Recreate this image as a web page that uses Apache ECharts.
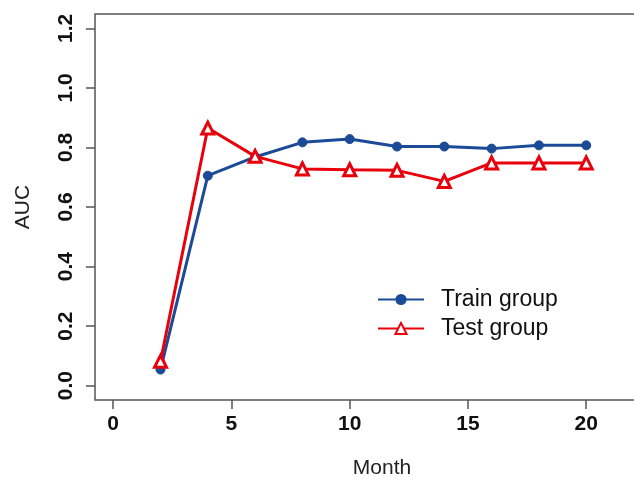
<!DOCTYPE html>
<html>
<head>
<meta charset="utf-8">
<script src="https://cdn.jsdelivr.net/npm/echarts@6/dist/echarts.min.js"></script>
<style>
html,body{margin:0;padding:0;background:#fff;}
#main{width:634px;height:483px;}
</style>
</head>
<body>
<div id="main"></div>
<script>
const months = [2, 4, 6, 8, 10, 12, 14, 16, 18, 20];
const trainAUC = [0.054, 0.705, 0.768, 0.817, 0.828, 0.803, 0.803, 0.796, 0.807, 0.807];
const testAUC = [0.082, 0.865, 0.770, 0.728, 0.725, 0.723, 0.686, 0.748, 0.748, 0.748];
const xTicks = [0, 5, 10, 15, 20];
const yTicks = [0, 0.2, 0.4, 0.6, 0.8, 1.0, 1.2];
const seriesNames = ['Train group', 'Test group'];

const blue = '#1b4a96';
const red = '#e8000b';
const axisColor = '#555';
const font = '"Liberation Sans", Arial, sans-serif';

const chart = echarts.init(document.getElementById('main'));
chart.setOption({
  animation: false,
  backgroundColor: '#fff',
  grid: {
    left: 95, top: 14, width: 574, height: 386,
    outerBoundsMode: 'none', containLabel: false,
    show: true, borderColor: axisColor, borderWidth: 1.5, backgroundColor: 'transparent'
  },
  legend: {
    orient: 'vertical',
    left: 372, top: 283,
    itemWidth: 46, itemHeight: 14, itemGap: 6,
    textStyle: { fontFamily: font, fontSize: 23, color: '#111', padding: [0, 0, 0, 12] },
    data: seriesNames
  },
  xAxis: {
    type: 'value', min: -0.77, max: 23.5,
    name: 'Month', nameLocation: 'middle', nameGap: 58,
    nameTextStyle: { fontFamily: font, fontSize: 21, color: '#222' },
    axisLine: { show: false, onZero: false },
    splitLine: { show: false },
    axisTick: { show: true, inside: false, length: 9, customValues: xTicks, lineStyle: { color: axisColor, width: 1.5 } },
    axisLabel: { customValues: xTicks, margin: 14, fontFamily: font, fontSize: 21, fontWeight: 'bold', color: '#111' }
  },
  yAxis: {
    type: 'value', min: -0.048, max: 1.248,
    name: 'AUC', nameLocation: 'middle', nameGap: 61,
    nameTextStyle: { fontFamily: font, fontSize: 21, color: '#222' },
    axisLine: { show: false, onZero: false },
    splitLine: { show: false },
    axisTick: { show: true, inside: false, length: 9, customValues: yTicks, lineStyle: { color: axisColor, width: 1.5 } },
    axisLabel: {
      customValues: yTicks, rotate: 90, margin: 18,
      fontFamily: font, fontSize: 21, fontWeight: 'bold', color: '#111',
      formatter: v => v.toFixed(1)
    }
  },
  series: [
    {
      name: seriesNames[0], type: 'line',
      data: months.map((m, i) => [m, trainAUC[i]]),
      symbol: 'circle', symbolSize: 9,
      lineStyle: { color: blue, width: 3 },
      itemStyle: { color: blue, borderColor: blue },
      z: 2
    },
    {
      name: seriesNames[1], type: 'line',
      data: months.map((m, i) => [m, testAUC[i]]),
      symbol: 'triangle', symbolSize: 12,
      lineStyle: { color: red, width: 3 },
      itemStyle: { color: '#fff', borderColor: red, borderWidth: 3 },
      z: 3
    }
  ]
});
</script>
</body>
</html>
